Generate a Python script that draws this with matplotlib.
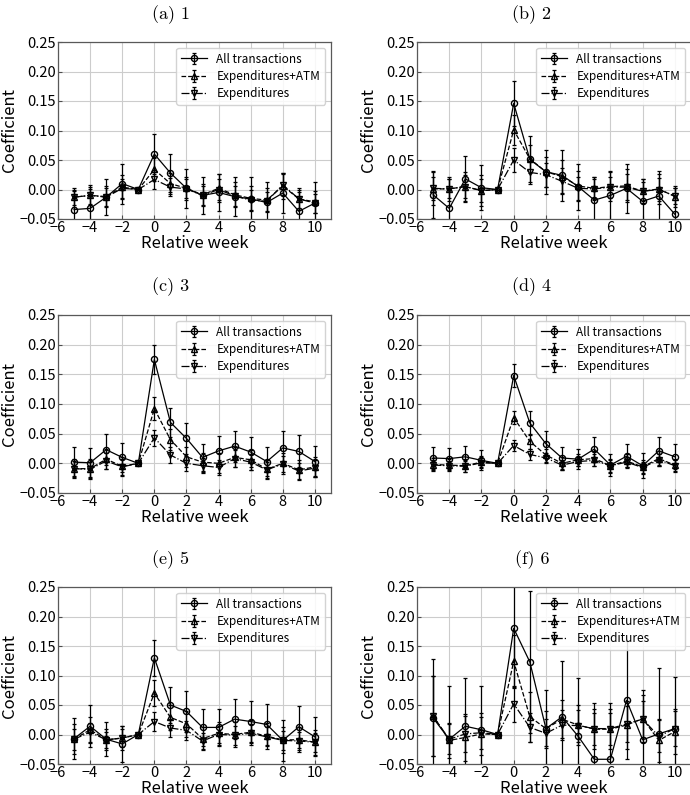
import matplotlib
matplotlib.use("Agg")
import matplotlib.pyplot as plt

plt.rcParams['font.family'] = ['Noto Sans CJK JP', 'DejaVu Sans']
plt.rcParams['axes.unicode_minus'] = True

weeks = [-5, -4, -3, -2, -1, 0, 1, 2, 3, 4, 5, 6, 7, 8, 9, 10]
panel_titles = ["(a) 1", "(b) 2", "(c) 3", "(d) 4", "(e) 5", "(f) 6"]
series_labels = ["All transactions", "Expenditures+ATM", "Expenditures"]
xticks = [-6, -4, -2, 0, 2, 4, 6, 8, 10]
yticks = [-0.05, 0.00, 0.05, 0.10, 0.15, 0.20, 0.25]

# Panel (a)
all_a = [-0.034, -0.032, -0.013, 0.010, 0.0, 0.060, 0.028, 0.002, -0.010, -0.005, -0.012, -0.016, -0.022, -0.006, -0.037, -0.023]
atm_a = [-0.013, -0.010, -0.012, 0.004, 0.0, 0.034, 0.010, 0.002, -0.009, 0.002, -0.009, -0.015, -0.018, 0.006, -0.016, -0.021]
exp_a = [-0.013, -0.010, -0.013, 0.002, 0.0, 0.017, 0.004, 0.001, -0.010, 0.000, -0.011, -0.018, -0.020, 0.008, -0.016, -0.023]
err_all_a = [0.032, 0.033, 0.030, 0.034, 0.0, 0.034, 0.033, 0.033, 0.032, 0.032, 0.033, 0.037, 0.035, 0.034, 0.032, 0.035]
err_atm_a = [0.016, 0.017, 0.018, 0.020, 0.0, 0.020, 0.018, 0.020, 0.019, 0.024, 0.021, 0.021, 0.020, 0.022, 0.018, 0.019]
err_exp_a = [0.013, 0.014, 0.015, 0.016, 0.0, 0.016, 0.015, 0.016, 0.016, 0.018, 0.017, 0.017, 0.016, 0.018, 0.015, 0.016]

# Panel (b)
all_b = [-0.009, -0.032, 0.018, 0.003, 0.0, 0.146, 0.051, 0.030, 0.024, 0.005, -0.018, -0.010, 0.002, -0.020, -0.011, -0.042]
atm_b = [0.001, 0.001, 0.005, -0.002, 0.0, 0.101, 0.052, 0.030, 0.022, 0.006, 0.002, 0.005, 0.006, -0.003, 0.001, -0.012]
exp_b = [0.002, 0.001, 0.005, -0.002, 0.0, 0.050, 0.029, 0.025, 0.014, 0.002, 0.001, 0.004, 0.004, -0.003, 0.000, -0.011]
err_all_b = [0.040, 0.050, 0.039, 0.038, 0.0, 0.038, 0.039, 0.037, 0.043, 0.039, 0.040, 0.041, 0.041, 0.038, 0.042, 0.045]
err_atm_b = [0.028, 0.020, 0.025, 0.026, 0.0, 0.026, 0.024, 0.025, 0.028, 0.026, 0.020, 0.024, 0.028, 0.020, 0.026, 0.018]
err_exp_b = [0.020, 0.016, 0.020, 0.020, 0.0, 0.020, 0.019, 0.020, 0.022, 0.020, 0.016, 0.018, 0.022, 0.016, 0.020, 0.014]

# Panel (c)
all_c = [0.002, 0.001, 0.023, 0.010, 0.0, 0.175, 0.069, 0.042, 0.010, 0.021, 0.029, 0.019, 0.003, 0.026, 0.020, 0.003]
atm_c = [-0.009, -0.009, 0.007, -0.005, 0.0, 0.092, 0.040, 0.011, 0.002, 0.000, 0.010, 0.006, -0.010, 0.000, -0.011, -0.006]
exp_c = [-0.009, -0.010, 0.004, -0.006, 0.0, 0.043, 0.014, 0.000, -0.004, -0.007, 0.008, 0.002, -0.011, -0.001, -0.013, -0.008]
err_all_c = [0.025, 0.025, 0.026, 0.024, 0.0, 0.025, 0.024, 0.026, 0.023, 0.025, 0.026, 0.026, 0.024, 0.029, 0.027, 0.026]
err_atm_c = [0.016, 0.017, 0.017, 0.016, 0.0, 0.019, 0.018, 0.017, 0.016, 0.017, 0.017, 0.017, 0.016, 0.018, 0.017, 0.017]
err_exp_c = [0.013, 0.013, 0.013, 0.013, 0.0, 0.014, 0.014, 0.013, 0.013, 0.013, 0.014, 0.013, 0.013, 0.014, 0.013, 0.013]

# Panel (d)
all_d = [0.009, 0.008, 0.011, 0.005, 0.0, 0.148, 0.068, 0.033, 0.009, 0.007, 0.024, -0.003, 0.012, -0.004, 0.021, 0.011]
atm_d = [-0.002, -0.003, -0.004, 0.002, 0.0, 0.077, 0.037, 0.014, 0.000, 0.006, 0.008, -0.004, 0.004, -0.006, 0.008, -0.003]
exp_d = [-0.003, -0.004, -0.005, 0.001, 0.0, 0.030, 0.015, 0.009, -0.003, 0.003, 0.005, -0.004, 0.002, -0.007, 0.006, -0.004]
err_all_d = [0.019, 0.018, 0.019, 0.017, 0.0, 0.019, 0.020, 0.021, 0.018, 0.017, 0.021, 0.019, 0.020, 0.021, 0.023, 0.021]
err_atm_d = [0.011, 0.010, 0.011, 0.010, 0.0, 0.011, 0.012, 0.011, 0.011, 0.010, 0.012, 0.012, 0.011, 0.012, 0.012, 0.011]
err_exp_d = [0.009, 0.008, 0.009, 0.008, 0.0, 0.009, 0.010, 0.009, 0.009, 0.008, 0.010, 0.010, 0.009, 0.010, 0.010, 0.009]

# Panel (e)
all_e = [-0.007, 0.014, -0.008, -0.016, 0.0, 0.130, 0.050, 0.039, 0.012, 0.012, 0.026, 0.022, 0.017, -0.010, 0.013, -0.004]
atm_e = [-0.008, 0.008, -0.009, -0.006, 0.0, 0.070, 0.029, 0.018, -0.007, 0.002, 0.000, 0.004, -0.003, -0.009, -0.009, -0.013]
exp_e = [-0.008, 0.004, -0.009, -0.006, 0.0, 0.022, 0.011, 0.007, -0.011, 0.000, -0.001, 0.002, -0.004, -0.010, -0.011, -0.013]
err_all_e = [0.035, 0.036, 0.029, 0.031, 0.0, 0.031, 0.031, 0.035, 0.031, 0.031, 0.034, 0.034, 0.035, 0.035, 0.036, 0.033]
err_atm_e = [0.025, 0.022, 0.018, 0.020, 0.0, 0.022, 0.021, 0.022, 0.019, 0.020, 0.021, 0.021, 0.022, 0.022, 0.021, 0.021]
err_exp_e = [0.018, 0.016, 0.014, 0.015, 0.0, 0.016, 0.015, 0.016, 0.014, 0.015, 0.016, 0.016, 0.016, 0.016, 0.016, 0.016]

# Panel (f)
all_f = [0.028, -0.008, 0.014, 0.008, 0.0, 0.180, 0.123, 0.010, 0.030, -0.003, -0.042, -0.042, 0.058, -0.009, 0.001, 0.010]
atm_f = [0.032, -0.010, -0.005, 0.001, 0.0, 0.124, 0.030, 0.010, 0.026, 0.016, 0.009, 0.009, 0.016, 0.027, -0.010, 0.005]
exp_f = [0.031, -0.008, 0.001, 0.003, 0.0, 0.052, 0.012, 0.002, 0.016, 0.015, 0.010, 0.010, 0.018, 0.026, -0.003, 0.010]
err_all_f = [0.100, 0.090, 0.081, 0.074, 0.0, 0.100, 0.120, 0.065, 0.095, 0.098, 0.095, 0.095, 0.100, 0.084, 0.112, 0.087]
err_atm_f = [0.068, 0.030, 0.040, 0.035, 0.0, 0.045, 0.042, 0.030, 0.032, 0.034, 0.034, 0.034, 0.040, 0.040, 0.036, 0.038]
err_exp_f = [0.068, 0.025, 0.030, 0.027, 0.0, 0.030, 0.025, 0.025, 0.025, 0.027, 0.027, 0.027, 0.030, 0.030, 0.027, 0.030]

panels = [
    (all_a, atm_a, exp_a, err_all_a, err_atm_a, err_exp_a),
    (all_b, atm_b, exp_b, err_all_b, err_atm_b, err_exp_b),
    (all_c, atm_c, exp_c, err_all_c, err_atm_c, err_exp_c),
    (all_d, atm_d, exp_d, err_all_d, err_atm_d, err_exp_d),
    (all_e, atm_e, exp_e, err_all_e, err_atm_e, err_exp_e),
    (all_f, atm_f, exp_f, err_all_f, err_atm_f, err_exp_f),
]

W, H = 690, 795
fig = plt.figure(figsize=(W / 100, H / 100), dpi=100)

col_left = [58, 417]
col_width = [273, 274]
row_top = [42, 315, 587]
row_height = [177, 178, 177]
title_x = [171, 532]
title_y = [15, 287, 560]

styles = [
    dict(fmt='-o', ms=4.4),
    dict(fmt='--^', ms=4.4),
    dict(fmt='-.v', ms=4.4),
]

for i, data in enumerate(panels):
    r, c = divmod(i, 2)
    x0 = col_left[c] / W
    w = col_width[c] / W
    y0 = 1 - (row_top[r] + row_height[r]) / H
    h = row_height[r] / H
    ax = fig.add_axes([x0, y0, w, h])
    vals = data[:3]
    errs = data[3:]
    for k in range(3):
        ax.errorbar(weeks, vals[k], yerr=errs[k], fmt=styles[k]['fmt'],
                    color='k', ecolor='k', mfc='none', mec='k',
                    ms=styles[k]['ms'], lw=0.9, elinewidth=0.9,
                    capsize=1.5, capthick=0.9, label=series_labels[k])
    ax.set_xlim(-6, 11)
    ax.set_ylim(-0.05, 0.25)
    ax.set_xticks(xticks)
    ax.set_yticks(yticks)
    ax.set_yticklabels([f"{v:.2f}".replace('-', '\u2212') for v in yticks])
    ax.grid(True, color='0.8', lw=0.8)
    ax.set_axisbelow(True)
    ax.tick_params(direction='in', labelsize=10.5, length=3, pad=1.5, color='0.3')
    for sp in ax.spines.values():
        sp.set_color('0.35')
        sp.set_linewidth(0.9)
    ax.set_xlabel("Relative week", fontsize=12, labelpad=0)
    ax.set_ylabel("Coefficient", fontsize=12, labelpad=1)
    ax.legend(loc='upper right', fontsize=8.5, frameon=True, framealpha=0.85,
              edgecolor='0.8', handlelength=2.2, borderaxespad=0.5,
              labelspacing=0.35, handletextpad=0.8)
    fig.text(title_x[c] / W, 1 - title_y[r] / H, panel_titles[i],
             family='cmr10', fontsize=13, ha='center', va='center')

fig.savefig("out.png", dpi=100)
